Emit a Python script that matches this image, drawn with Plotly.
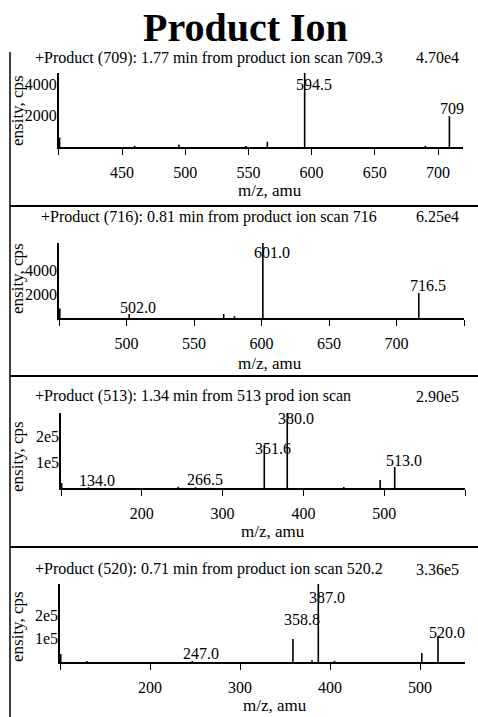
import plotly.graph_objects as go

W, H = 478, 717
SERIF = "Liberation Serif"

title_text = "Product Ion"
x_title = "m/z, amu"
y_title = "ensity, cps"

# ---- spectrum 1: product ions of m/z 709
header_1 = "+Product (709): 1.77 min from product ion scan 709.3"
maxint_1 = "4.70e4"
mz_1 = [400.6, 460.0, 495.0, 548.0, 565.0, 594.5, 690.0, 709.0]
int_1 = [6000, 800, 1500, 600, 3300, 47000, 800, 19500]
labels_1 = ["594.5", "709"]
xrange_1 = [400, 720]
xticks_1 = [400, 450, 500, 550, 600, 650, 700]
xticktext_1 = ["", "450", "500", "550", "600", "650", "700"]
yticks_1 = [20000, 40000]
yticktext_1 = ["2000", "4000"]

# ---- spectrum 2: product ions of m/z 716
header_2 = "+Product (716): 0.81 min from product ion scan 716"
maxint_2 = "6.25e4"
mz_2 = [450.6, 502.0, 572.0, 580.0, 601.0, 716.5]
int_2 = [8000, 3300, 3300, 1500, 62500, 20800]
labels_2 = ["502.0", "601.0", "716.5"]
xrange_2 = [450, 750]
xticks_2 = [450, 500, 550, 600, 650, 700, 750]
xticktext_2 = ["", "500", "550", "600", "650", "700", ""]
yticks_2 = [20000, 40000]
yticktext_2 = ["2000", "4000"]

# ---- spectrum 3: product ions of m/z 513
header_3 = "+Product (513): 1.34 min from 513 prod ion scan"
maxint_3 = "2.90e5"
mz_3 = [100.8, 134.0, 245.0, 266.5, 351.6, 380.0, 450.0, 495.0, 513.0]
int_3 = [19000, 3000, 5000, 3000, 166000, 290000, 4000, 31000, 81000]
labels_3 = ["134.0", "266.5", "351.6", "380.0", "513.0"]
xrange_3 = [100, 600]
xticks_3 = [100, 200, 300, 400, 500, 600]
xticktext_3 = ["", "200", "300", "400", "500", ""]
yticks_3 = [100000, 200000]
yticktext_3 = ["1e5", "2e5"]

# ---- spectrum 4: product ions of m/z 520
header_4 = "+Product (520): 0.71 min from product ion scan 520.2"
maxint_4 = "3.36e5"
mz_4 = [100.8, 130.0, 247.0, 358.8, 380.0, 387.0, 405.0, 502.0, 520.0]
int_4 = [34000, 4000, 4000, 99000, 8000, 336000, 5000, 39000, 112000]
labels_4 = ["247.0", "358.8", "387.0", "520.0"]
xrange_4 = [100, 550]
xticks_4 = [100, 200, 300, 400, 500]
xticktext_4 = ["", "200", "300", "400", "500"]
yticks_4 = [100000, 200000]
yticktext_4 = ["1e5", "2e5"]


def xp(px):
    return px / W


def yp(py):
    return 1 - py / H


# panel boxes in pixels: (left, right, top, bottom)
boxes = [(58.8, 463.3, 73, 147), (59, 464, 243, 318),
         (61, 465, 413, 488), (60, 465, 584, 662)]
header_pos = [(33, 58), (39, 217), (33, 396), (33, 569)]
ytitle_y = [111, 279, 457, 627]
xtitle_pos = [(270, 190), (270, 363), (273, 531), (275, 705)]
# vertical offset (px) of each peak label's centre from its peak top
label_dy = [
    {"594.5": -12, "709": 8},
    {"502.0": 7, "601.0": -10, "716.5": 8},
    {"134.0": 7, "266.5": 8, "351.6": -3, "380.0": -5, "513.0": 7},
    {"247.0": 8, "358.8": 20, "387.0": -13, "520.0": 4},
]

panels = [
    (header_1, maxint_1, mz_1, int_1, labels_1, xrange_1, xticks_1, xticktext_1, yticks_1, yticktext_1),
    (header_2, maxint_2, mz_2, int_2, labels_2, xrange_2, xticks_2, xticktext_2, yticks_2, yticktext_2),
    (header_3, maxint_3, mz_3, int_3, labels_3, xrange_3, xticks_3, xticktext_3, yticks_3, yticktext_3),
    (header_4, maxint_4, mz_4, int_4, labels_4, xrange_4, xticks_4, xticktext_4, yticks_4, yticktext_4),
]

fig = go.Figure()
annotations = []
layout_axes = {}
txt = dict(family=SERIF, color="black")

for i, (hdr, mx, mz, inten, labs, xr, xt, xtt, yt, ytt) in enumerate(panels):
    n = "" if i == 0 else str(i + 1)
    xa, ya = "x" + n, "y" + n
    x0, x1, top, bot = boxes[i]

    # stick spectrum
    xs, ys = [], []
    for m, v in zip(mz, inten):
        xs += [m, m, None]
        ys += [0, v, None]
    fig.add_trace(go.Scatter(x=xs, y=ys, mode="lines",
                             line=dict(color="black", width=1.6),
                             xaxis=xa, yaxis=ya, hoverinfo="skip",
                             showlegend=False))

    layout_axes["xaxis" + n] = dict(
        domain=[xp(x0), xp(x1)], range=xr, anchor=ya,
        showline=True, linewidth=2, linecolor="black", mirror=False,
        ticks="outside", ticklen=6, tickwidth=1.2, tickcolor="black",
        tickvals=xt, ticktext=xtt, ticklabelstandoff=4,
        tickfont=dict(size=16, **txt),
        showgrid=False, zeroline=False, fixedrange=True)
    layout_axes["yaxis" + n] = dict(
        domain=[yp(bot), yp(top)], range=[0, float(mx)], anchor=xa,
        showline=True, linewidth=1.5, linecolor="black",
        ticks="", tickvals=yt, ticktext=ytt, ticklabelstandoff=-3,
        tickfont=dict(size=16, **txt),
        showgrid=False, zeroline=False, fixedrange=True)

    # header line and full-scale intensity
    hx, hy = header_pos[i]
    annotations.append(dict(text=hdr, x=xp(hx), y=yp(hy), xref="paper", yref="paper",
                            xanchor="left", yanchor="middle", showarrow=False,
                            font=dict(size=16, **txt)))
    annotations.append(dict(text=mx, x=xp(461), y=yp(hy), xref="paper", yref="paper",
                            xanchor="right", yanchor="middle", showarrow=False,
                            font=dict(size=16, **txt)))

    # axis titles
    annotations.append(dict(text=y_title, x=xp(17), y=yp(ytitle_y[i]), xref="paper", yref="paper",
                            xanchor="center", yanchor="middle", textangle=-90,
                            showarrow=False, font=dict(size=17, **txt)))
    tx, ty = xtitle_pos[i]
    annotations.append(dict(text=x_title, x=xp(tx), y=yp(ty), xref="paper", yref="paper",
                            xanchor="center", yanchor="middle", showarrow=False,
                            font=dict(size=17, **txt)))

    # peak labels
    for lab in labs:
        m = float(lab)
        k = min(range(len(mz)), key=lambda j: abs(mz[j] - m))
        annotations.append(dict(text=lab, x=m, y=inten[k], xref=xa, yref=ya,
                                xanchor="left", yanchor="middle", xshift=-11,
                                yshift=label_dy[i][lab], showarrow=False,
                                font=dict(size=16, **txt)))

annotations.append(dict(text="<b>" + title_text + "</b>", x=xp(245), y=yp(28),
                        xref="paper", yref="paper", xanchor="center", yanchor="middle",
                        showarrow=False, font=dict(size=40, **txt)))

shapes = [dict(type="line", xref="paper", yref="paper", x0=xp(10), x1=xp(10),
               y0=yp(52), y1=yp(717), line=dict(color="black", width=1.5))]
for sy in [206, 376, 547]:
    shapes.append(dict(type="line", xref="paper", yref="paper", x0=xp(10), x1=1,
                       y0=yp(sy), y1=yp(sy), line=dict(color="black", width=2)))

fig.update_layout(width=W, height=H, margin=dict(l=0, r=0, t=0, b=0),
                  paper_bgcolor="white", plot_bgcolor="white",
                  annotations=annotations, shapes=shapes, **layout_axes)

fig.write_html("out.html", config={"displayModeBar": False})
